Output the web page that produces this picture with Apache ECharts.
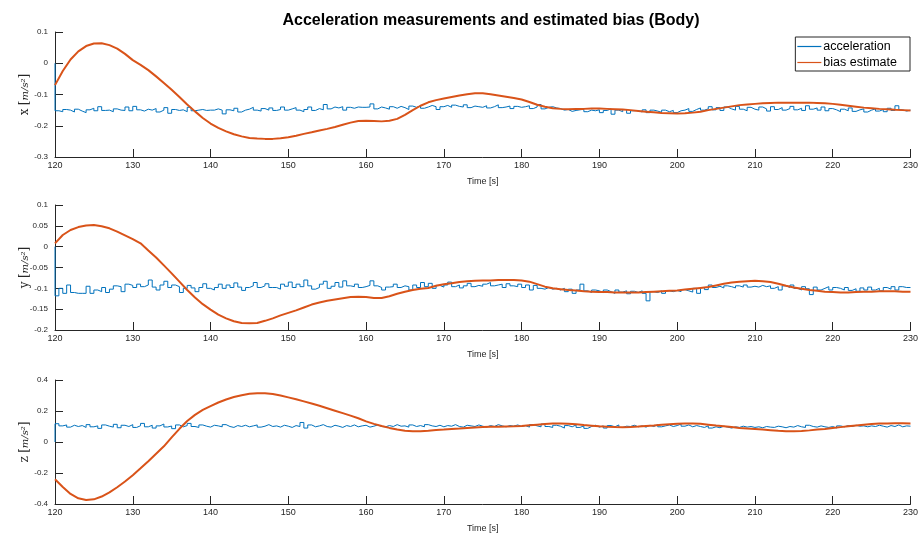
<!DOCTYPE html>
<html>
<head>
<meta charset="utf-8">
<script src="https://cdn.jsdelivr.net/npm/echarts@6/dist/echarts.min.js"></script>
<style>
  html, body { margin: 0; padding: 0; background: #fff; }
  #main { width: 921px; height: 534px; }
</style>
</head>
<body>
<div id="main"></div>
<script>
// sampling grids (s)
const T_START = 120
const ACC_STEP = 0.5
const BIAS_STEP = 1

// x axis of body frame
const accX = [
  0, -0.152, -0.155, -0.148, -0.150, -0.156, -0.147, -0.153, -0.158, -0.149,
  -0.144, -0.152, -0.139, -0.151, -0.150, -0.155, -0.146, -0.150, -0.151, -0.140,
  -0.152, -0.138, -0.149, -0.153, -0.147, -0.150, -0.145, -0.156, -0.150, -0.142,
  -0.160, -0.148, -0.151, -0.149, -0.155, -0.141, -0.152, -0.150, -0.148, -0.151,
  -0.150, -0.150, -0.146, -0.150, -0.162, -0.149, -0.152, -0.144, -0.156, -0.150,
  -0.147, -0.141, -0.150, -0.153, -0.145, -0.150, -0.143, -0.151, -0.148, -0.140,
  -0.150, -0.146, -0.142, -0.150, -0.155, -0.148, -0.140, -0.151, -0.145, -0.149,
  -0.132, -0.146, -0.140, -0.143, -0.139, -0.150, -0.141, -0.144, -0.140, -0.141,
  -0.141, -0.140, -0.130, -0.146, -0.140, -0.143, -0.147, -0.139, -0.144, -0.138,
  -0.142, -0.148, -0.137, -0.141, -0.136, -0.144, -0.140, -0.135, -0.139, -0.148,
  -0.139, -0.135, -0.141, -0.134, -0.138, -0.140, -0.133, -0.142, -0.137, -0.139,
  -0.141, -0.136, -0.143, -0.139, -0.133, -0.142, -0.140, -0.137, -0.145, -0.138,
  -0.141, -0.139, -0.136, -0.145, -0.140, -0.132, -0.146, -0.141, -0.139, -0.143,
  -0.145, -0.150, -0.148, -0.154, -0.151, -0.149, -0.147, -0.155, -0.150, -0.152,
  -0.149, -0.158, -0.151, -0.146, -0.163, -0.150, -0.155, -0.148, -0.160, -0.152,
  -0.151, -0.156, -0.149, -0.158, -0.150, -0.153, -0.157, -0.150, -0.155, -0.151,
  -0.158, -0.152, -0.150, -0.145, -0.154, -0.148, -0.143, -0.150, -0.146, -0.139,
  -0.149, -0.142, -0.151, -0.140, -0.146, -0.150, -0.138, -0.147, -0.152, -0.141,
  -0.147, -0.150, -0.140, -0.146, -0.153, -0.139, -0.148, -0.142, -0.150, -0.145,
  -0.138, -0.149, -0.144, -0.151, -0.136, -0.147, -0.143, -0.150, -0.140, -0.152,
  -0.145, -0.149, -0.155, -0.147, -0.152, -0.143, -0.154, -0.149, -0.146, -0.156,
  -0.150, -0.146, -0.153, -0.148, -0.155, -0.144, -0.151, -0.136, -0.149, -0.153,
  -0.150
]
const biasX = [
  -0.070, -0.025, 0.012, 0.038, 0.055, 0.063, 0.064, 0.058, 0.047, 0.030,
  0.010, -0.005, -0.022, -0.042, -0.063, -0.085, -0.108, -0.132, -0.154, -0.175,
  -0.193, -0.207, -0.218, -0.227, -0.234, -0.239, -0.241, -0.242, -0.242, -0.240,
  -0.237, -0.232, -0.226, -0.221, -0.215, -0.210, -0.204, -0.197, -0.190, -0.185,
  -0.184, -0.185, -0.186, -0.184, -0.178, -0.165, -0.150, -0.136, -0.125, -0.118,
  -0.113, -0.108, -0.103, -0.099, -0.096, -0.096, -0.099, -0.103, -0.107, -0.111,
  -0.116, -0.124, -0.133, -0.139, -0.144, -0.146, -0.147, -0.146, -0.146, -0.145,
  -0.145, -0.146, -0.147, -0.148, -0.150, -0.153, -0.155, -0.157, -0.159, -0.160,
  -0.161, -0.160, -0.158, -0.155, -0.150, -0.146, -0.142, -0.138, -0.134, -0.132,
  -0.130, -0.128, -0.127, -0.126, -0.126, -0.126, -0.126, -0.126, -0.127, -0.128,
  -0.130, -0.133, -0.136, -0.139, -0.142, -0.144, -0.146, -0.147, -0.149, -0.150,
  -0.151
]

// y axis of body frame
const accY = [
  0, -0.118, -0.100, -0.112, -0.092, -0.110, -0.112, -0.112, -0.112, -0.095,
  -0.112, -0.104, -0.108, -0.098, -0.110, -0.102, -0.094, -0.096, -0.108, -0.090,
  -0.093, -0.098, -0.090, -0.096, -0.092, -0.080, -0.097, -0.104, -0.092, -0.083,
  -0.098, -0.092, -0.096, -0.110, -0.100, -0.093, -0.099, -0.108, -0.098, -0.089,
  -0.100, -0.104, -0.098, -0.090, -0.100, -0.092, -0.098, -0.087, -0.097, -0.105,
  -0.098, -0.094, -0.086, -0.098, -0.094, -0.089, -0.098, -0.098, -0.102, -0.090,
  -0.095, -0.085, -0.098, -0.090, -0.096, -0.080, -0.094, -0.102, -0.098, -0.090,
  -0.083, -0.100, -0.095, -0.086, -0.097, -0.082, -0.094, -0.096, -0.090, -0.098,
  -0.096, -0.093, -0.082, -0.094, -0.098, -0.104, -0.097, -0.096, -0.090, -0.098,
  -0.094, -0.096, -0.104, -0.092, -0.098, -0.086, -0.096, -0.088, -0.100, -0.093,
  -0.097, -0.092, -0.085, -0.096, -0.092, -0.099, -0.094, -0.088, -0.096, -0.093,
  -0.095, -0.090, -0.086, -0.094, -0.092, -0.090, -0.098, -0.089, -0.094, -0.096,
  -0.090, -0.098, -0.092, -0.104, -0.093, -0.100, -0.102, -0.098, -0.102, -0.100,
  -0.104, -0.100, -0.108, -0.102, -0.112, -0.104, -0.090, -0.106, -0.110, -0.104,
  -0.106, -0.110, -0.104, -0.108, -0.112, -0.104, -0.109, -0.106, -0.113, -0.107,
  -0.110, -0.106, -0.112, -0.130, -0.108, -0.110, -0.106, -0.112, -0.106, -0.108,
  -0.105, -0.108, -0.103, -0.106, -0.109, -0.100, -0.112, -0.098, -0.103, -0.092,
  -0.098, -0.095, -0.099, -0.094, -0.096, -0.099, -0.094, -0.097, -0.092, -0.097,
  -0.095, -0.097, -0.093, -0.096, -0.094, -0.100, -0.096, -0.104, -0.094, -0.098,
  -0.092, -0.100, -0.104, -0.096, -0.101, -0.115, -0.097, -0.104, -0.100, -0.096,
  -0.104, -0.098, -0.100, -0.104, -0.098, -0.105, -0.101, -0.107, -0.099, -0.104,
  -0.097, -0.104, -0.100, -0.106, -0.098, -0.102, -0.096, -0.104, -0.096, -0.098,
  -0.098
]
const biasY = [
  0.008, 0.028, 0.040, 0.047, 0.051, 0.052, 0.049, 0.044, 0.036, 0.027,
  0.018, 0.008, -0.009, -0.026, -0.045, -0.064, -0.084, -0.104, -0.122, -0.138,
  -0.151, -0.163, -0.172, -0.179, -0.183, -0.184, -0.183, -0.178, -0.172, -0.165,
  -0.159, -0.153, -0.146, -0.139, -0.134, -0.130, -0.127, -0.124, -0.121, -0.120,
  -0.121, -0.123, -0.123, -0.119, -0.113, -0.108, -0.104, -0.101, -0.099, -0.094,
  -0.090, -0.088, -0.085, -0.083, -0.082, -0.081, -0.081, -0.080, -0.080, -0.080,
  -0.081, -0.084, -0.090, -0.096, -0.100, -0.102, -0.104, -0.105, -0.107, -0.108,
  -0.109, -0.109, -0.110, -0.110, -0.110, -0.110, -0.109, -0.108, -0.107, -0.106,
  -0.105, -0.103, -0.101, -0.099, -0.097, -0.093, -0.089, -0.086, -0.084, -0.083,
  -0.082, -0.083, -0.085, -0.089, -0.094, -0.098, -0.101, -0.104, -0.106, -0.108,
  -0.109, -0.110, -0.110, -0.109, -0.108, -0.108, -0.107, -0.107, -0.107, -0.108,
  -0.108
]

// z axis of body frame
const accZ = [
  0, 0.118, 0.104, 0.110, 0.096, 0.108, 0.100, 0.106, 0.094, 0.112,
  0.098, 0.104, 0.088, 0.110, 0.102, 0.096, 0.114, 0.092, 0.108, 0.100,
  0.112, 0.094, 0.105, 0.120, 0.098, 0.108, 0.090, 0.104, 0.116, 0.097,
  0.103, 0.086, 0.110, 0.098, 0.106, 0.120, 0.100, 0.094, 0.110, 0.102,
  0.096, 0.108, 0.104, 0.098, 0.112, 0.100, 0.094, 0.106, 0.100, 0.108,
  0.098, 0.104, 0.110, 0.096, 0.102, 0.112, 0.100, 0.104, 0.096, 0.108,
  0.102, 0.094, 0.106, 0.100, 0.126, 0.090, 0.110, 0.098, 0.104, 0.112,
  0.100, 0.096, 0.108, 0.102, 0.094, 0.106, 0.100, 0.110, 0.098, 0.104,
  0.108, 0.096, 0.102, 0.110, 0.100, 0.098, 0.106, 0.100, 0.112, 0.102,
  0.104, 0.096, 0.110, 0.100, 0.106, 0.098, 0.112, 0.104, 0.100, 0.108,
  0.098, 0.106, 0.102, 0.112, 0.100, 0.096, 0.108, 0.104, 0.100, 0.110,
  0.102, 0.096, 0.106, 0.100, 0.112, 0.104, 0.098, 0.106, 0.102, 0.110,
  0.100, 0.106, 0.096, 0.112, 0.104, 0.098, 0.116, 0.100, 0.094, 0.108,
  0.102, 0.090, 0.106, 0.098, 0.110, 0.094, 0.104, 0.088, 0.100, 0.108,
  0.096, 0.104, 0.090, 0.106, 0.098, 0.110, 0.094, 0.102, 0.100, 0.108,
  0.098, 0.104, 0.096, 0.108, 0.100, 0.112, 0.098, 0.104, 0.110, 0.100,
  0.106, 0.116, 0.102, 0.110, 0.098, 0.106, 0.100, 0.094, 0.104, 0.090,
  0.098, 0.092, 0.102, 0.096, 0.090, 0.098, 0.094, 0.102, 0.096, 0.100,
  0.094, 0.098, 0.092, 0.100, 0.096, 0.094, 0.102, 0.098, 0.092, 0.100,
  0.096, 0.106, 0.098, 0.094, 0.108, 0.100, 0.096, 0.104, 0.098, 0.094,
  0.100, 0.090, 0.104, 0.098, 0.106, 0.100, 0.108, 0.102, 0.104, 0.098,
  0.104, 0.100, 0.108, 0.102, 0.096, 0.106, 0.100, 0.110, 0.098, 0.104,
  0.102
]
const biasZ = [
  -0.240, -0.290, -0.335, -0.363, -0.374, -0.370, -0.352, -0.325, -0.292, -0.255,
  -0.214, -0.170, -0.124, -0.076, -0.028, 0.030, 0.085, 0.135, 0.175, 0.207,
  0.232, 0.255, 0.274, 0.290, 0.302, 0.311, 0.315, 0.315, 0.310, 0.300,
  0.288, 0.276, 0.262, 0.248, 0.234, 0.218, 0.202, 0.186, 0.170, 0.153,
  0.133, 0.117, 0.103, 0.091, 0.081, 0.073, 0.070, 0.070, 0.073, 0.077,
  0.080, 0.084, 0.087, 0.091, 0.094, 0.096, 0.098, 0.099, 0.100, 0.101,
  0.104, 0.108, 0.112, 0.116, 0.119, 0.120, 0.118, 0.114, 0.109, 0.105,
  0.101, 0.098, 0.096, 0.095, 0.097, 0.100, 0.104, 0.107, 0.111, 0.115,
  0.118, 0.120, 0.120, 0.117, 0.112, 0.106, 0.101, 0.096, 0.091, 0.087,
  0.084, 0.080, 0.076, 0.072, 0.070, 0.069, 0.071, 0.075, 0.080, 0.084,
  0.090, 0.096, 0.102, 0.107, 0.112, 0.116, 0.119, 0.120, 0.121, 0.121,
  0.120
]

// y axis ranges per subplot
const yRanges = [
  { min: -0.3, max: 0.1, interval: 0.1, label: 'x' },
  { min: -0.2, max: 0.1, interval: 0.05, label: 'y' },
  { min: -0.4, max: 0.4, interval: 0.2, label: 'z' },
]

const BLUE = '#0072BD'
const ORANGE = '#D95319'
const AX = '#262626'

function pairs(vals, step) {
  return vals.map((v, i) => [T_START + i * step, v])
}

const tops = [32, 205, 380]
const grids = tops.map((t) => ({ left: 55, right: 3, top: t, height: 125 }))

const xAxes = tops.map((t, i) => ({
  type: 'value',
  gridIndex: i,
  min: 120,
  max: 230,
  interval: 10,
  name: 'Time [s]',
  nameLocation: 'middle',
  nameGap: 20,
  nameTextStyle: { fontSize: 9, color: AX, fontFamily: 'Liberation Sans' },
  axisLine: { onZero: false, lineStyle: { color: AX, width: 1 } },
  axisTick: { inside: true, length: 8, lineStyle: { color: AX } },
  axisLabel: { fontSize: 9, color: AX, margin: 4, fontFamily: 'Liberation Sans' },
  splitLine: { show: false },
}))

const yAxes = yRanges.map((r, i) => ({
  type: 'value',
  gridIndex: i,
  min: r.min,
  max: r.max,
  interval: r.interval,
  name: '{v|' + r.label + '} {b|[}{f|m/s²}{b|]}',
  nameLocation: 'middle',
  nameRotate: 90,
  nameGap: 24,
  nameMoveOverlap: false,
  nameTextStyle: {
    color: AX,
    rich: {
      v: { fontFamily: 'DejaVu Serif', fontSize: 12, color: AX },
      b: { fontFamily: 'DejaVu Serif', fontSize: 12, color: AX },
      f: { fontFamily: 'DejaVu Serif', fontStyle: 'italic', fontSize: 10, color: AX },
    },
  },
  axisLine: { show: true, onZero: false, lineStyle: { color: AX, width: 1 } },
  axisTick: { show: true, inside: true, length: 8, lineStyle: { color: AX } },
  axisLabel: { fontSize: 8, color: AX, margin: 7, fontFamily: 'Liberation Sans' },
  splitLine: { show: false },
}))

const accSets = [accX, accY, accZ]
const biasSets = [biasX, biasY, biasZ]
const series = []
for (let i = 0; i < 3; i++) {
  series.push({
    name: 'acceleration',
    type: 'line',
    xAxisIndex: i,
    yAxisIndex: i,
    step: 'start',
    symbol: 'none',
    lineStyle: { color: BLUE, width: 1 },
    itemStyle: { color: BLUE },
    data: pairs(accSets[i], ACC_STEP),
  })
  series.push({
    name: 'bias estimate',
    type: 'line',
    xAxisIndex: i,
    yAxisIndex: i,
    symbol: 'none',
    lineStyle: { color: ORANGE, width: 2 },
    itemStyle: { color: ORANGE },
    data: pairs(biasSets[i], BIAS_STEP),
  })
}

const chart = echarts.init(document.getElementById('main'))
chart.setOption({
  animation: false,
  backgroundColor: '#fff',
  title: {
    text: 'Acceleration measurements and estimated bias (Body)',
    left: 486,
    textAlign: 'center',
    top: 8,
    textStyle: { fontSize: 16, fontWeight: 'bold', color: '#000', fontFamily: 'Liberation Sans' },
  },
  legend: {
    orient: 'vertical',
    right: 11,
    top: 37,
    data: ['acceleration', 'bias estimate'],
    icon: 'rect',
    backgroundColor: '#fff',
    borderColor: AX,
    borderWidth: 1,
    borderRadius: 0,
    padding: [3, 13, 2, 2],
    itemGap: 3,
    itemWidth: 24,
    itemHeight: 1.2,
    textStyle: { fontSize: 12.5, color: '#000', padding: [0, 0, 0, -3], fontFamily: 'Liberation Sans' },
  },
  grid: grids,
  xAxis: xAxes,
  yAxis: yAxes,
  series: series,
})
</script>
</body>
</html>
